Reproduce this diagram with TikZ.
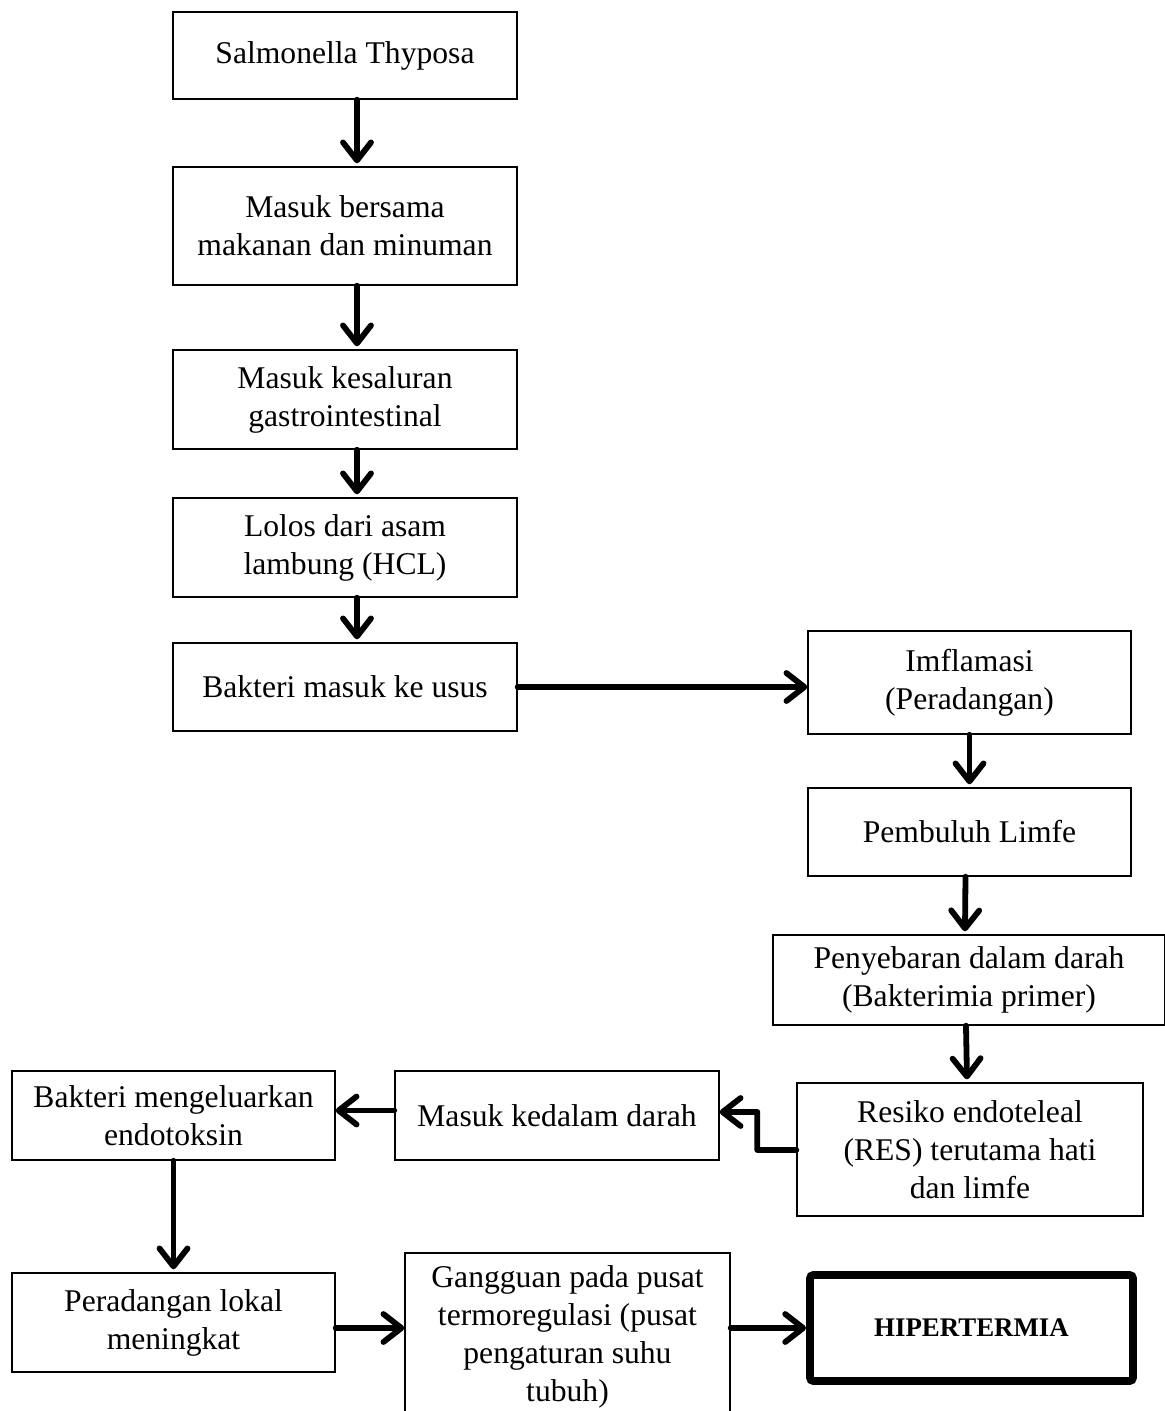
\documentclass[tikz,border=0pt]{standalone}
\usepackage{fontspec}
\setmainfont{Liberation Serif}
\usepackage{tikz}
\usetikzlibrary{arrows.meta}
\def\DA#1#2#3{\draw [arr] ([xshift=#3]#1.south) -- ([xshift=#3,yshift=0.06cm]#2.north);}
\def\RA#1#2{\draw [arr] (#1.east) -- (#1.east -| #2.west);}

\begin{document}
\begin{tikzpicture}[x=0.02cm,y=-0.02cm,
  box/.style={draw,line width=0.8pt,align=center,inner sep=0pt,
    font=\fontsize{18}{21.6}\selectfont},
  arr/.style={line width=3.3pt,line cap=round,line join=round,
    -{Straight Barb[length=0.36cm,width=0.56cm,line cap=round,line join=round]}}]
\useasboundingbox (0,0) rectangle (1165,1411);
\clip (0,0) rectangle (1165,1411);
% left column
\node[box,minimum width=6.88cm,minimum height=1.74cm] (s1) at (345,55.5) {Salmonella Thyposa};
\node[box,minimum width=6.88cm,minimum height=2.36cm] (s2) at (345,226) {Masuk bersama\\makanan dan minuman};
\node[box,minimum width=6.88cm,minimum height=1.98cm] (s3) at (345,399.5) {Masuk kesaluran\\gastrointestinal};
\node[box,minimum width=6.88cm,minimum height=1.98cm] (s4) at (345,547.5) {Lolos dari asam\\lambung (HCL)};
\node[box,minimum width=6.88cm,minimum height=1.76cm] (s5) at (345,687) {Bakteri masuk ke usus};
% right column
\node[box,minimum width=6.46cm,minimum height=2.06cm] (s6) at (969.5,682.5) {Imflamasi\\(Peradangan)};
\node[box,minimum width=6.46cm,minimum height=1.76cm] (s7) at (969.5,832) {Pembuluh Limfe};
\node[box,minimum width=7.84cm,minimum height=1.8cm] (s8) at (969,980) {Penyebaran dalam darah\\(Bakterimia primer)};
\node[box,minimum width=6.92cm,minimum height=2.66cm] (s9) at (970,1149.5) {Resiko endoteleal\\(RES) terutama hati\\dan limfe};
% bottom rows
\node[box,minimum width=6.48cm,minimum height=1.78cm] (s10) at (557,1115.5) {Masuk kedalam darah};
\node[box,minimum width=6.46cm,minimum height=1.78cm] (s11) at (173.5,1115.5) {Bakteri mengeluarkan\\endotoksin};
\node[box,minimum width=6.46cm,minimum height=1.98cm] (s12) at (173.5,1322.5) {Peradangan lokal\\meningkat};
\node[box,minimum width=6.5cm,minimum height=3.34cm] (s13) at (567.5,1336.5) {Gangguan pada pusat\\termoregulasi (pusat\\pengaturan suhu\\tubuh)};
\node[box,line width=4.5pt,rounded corners=2pt,minimum width=6.46cm,minimum height=2.12cm,
  font=\fontsize{15.3}{18}\selectfont\bfseries] (s14) at (971.5,1328) {HIPERTERMIA};

\DA{s1}{s2}{0.24cm} \DA{s2}{s3}{0.24cm} \DA{s3}{s4}{0.24cm} \DA{s4}{s5}{0.24cm}
\RA{s5}{s6}
\DA{s6}{s7}{0cm} \DA{s7}{s8}{-0.08cm} \DA{s8}{s9}{-0.06cm}
\draw [arr] ([yshift=-0.01cm]s9.west) -- ++(-39,0) -- ++(0,-38) -- ([yshift=0.07cm]s10.east);
\draw [arr] ([yshift=0.1cm]s10.west) -- ([yshift=0.1cm]s11.east);
\DA{s11}{s12}{0cm}
\draw [arr] ([yshift=-0.11cm]s12.east) -- ([yshift=0.17cm]s13.west);
\draw [arr] ([yshift=0.17cm]s13.east) -- (s14.west);
\end{tikzpicture}
\end{document}
